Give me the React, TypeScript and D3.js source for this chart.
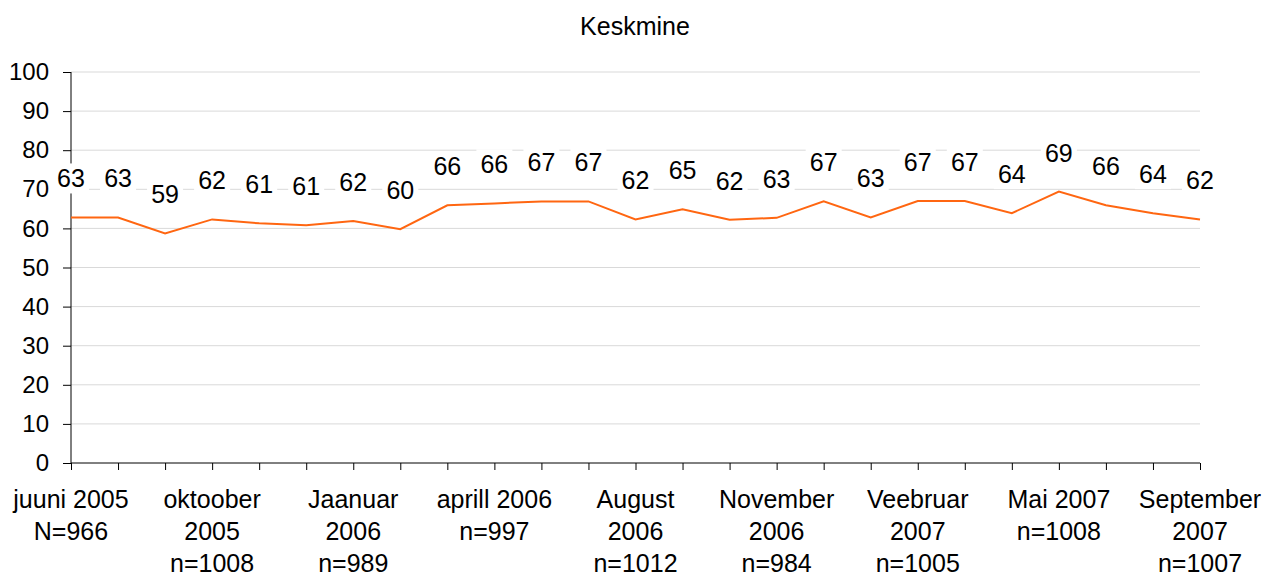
import { useEffect, useRef } from "react";
import * as d3 from "d3";

// Mean score per survey wave (25 waves, June 2005 - September 2007)
const values = [
  62.8, 62.8, 58.7, 62.3, 61.3, 60.8, 61.9, 59.8, 65.9, 66.4, 66.9, 66.9, 62.3,
  64.9, 62.2, 62.7, 66.9, 62.8, 67.0, 67.0, 63.9, 69.4, 65.9, 63.9, 62.3,
];

// Only every third wave carries a category label
const labelIndexes = [0, 3, 6, 9, 12, 15, 18, 21, 24];
const tickLabels = [
  ["juuni 2005", "N=966"],
  ["oktoober", "2005", "n=1008"],
  ["Jaanuar", "2006", "n=989"],
  ["aprill 2006", "n=997"],
  ["August", "2006", "n=1012"],
  ["November", "2006", "n=984"],
  ["Veebruar", "2007", "n=1005"],
  ["Mai 2007", "n=1008"],
  ["September", "2007", "n=1007"],
];

const yTicks = [0, 10, 20, 30, 40, 50, 60, 70, 80, 90, 100];
const title = "Keskmine";

const FONT = "'Liberation Sans', Arial, sans-serif";

export default function App() {
  const ref = useRef<SVGSVGElement>(null);

  useEffect(() => {
    if (!ref.current) return;
    const svg = d3.select(ref.current);
    svg.selectAll("*").remove();

    const left = 71;
    const right = 1200;
    const top = 72;
    const bottom = 463;

    const x = d3
      .scalePoint<number>()
      .domain(values.map((_, i) => i))
      .range([left, right]);

    const y = d3.scaleLinear().domain([0, 100]).range([bottom, top]);

    // Title
    svg
      .append("text")
      .attr("x", 635)
      .attr("y", 35)
      .attr("text-anchor", "middle")
      .style("font-family", FONT)
      .style("font-size", "25px")
      .attr("fill", "#000")
      .text(title);

    // Gridlines
    svg
      .append("g")
      .selectAll("line")
      .data(yTicks.filter((t) => t > 0))
      .enter()
      .append("line")
      .attr("x1", left)
      .attr("x2", right)
      .attr("y1", (d) => y(d))
      .attr("y2", (d) => y(d))
      .attr("stroke", "#d9d9d9")
      .attr("stroke-width", 1);

    // Y axis
    svg
      .append("g")
      .attr("transform", `translate(${left},0)`)
      .call(d3.axisLeft(y).tickValues(yTicks).tickSize(8).tickPadding(14))
      .call((g) => g.select(".domain").attr("stroke", "#000").attr("d", `M0,${top}V${bottom}`))
      .call((g) => g.selectAll(".tick line").attr("stroke", "#000"))
      .call((g) =>
        g
          .selectAll(".tick text")
          .attr("fill", "#000")
          .style("font-family", FONT)
          .style("font-size", "24px")
      );

    // X axis
    svg
      .append("g")
      .attr("transform", `translate(0,${bottom})`)
      .call(d3.axisBottom(x).tickSize(7).tickFormat(() => ""))
      .call((g) => g.select(".domain").attr("stroke", "#000").attr("d", `M${left},0H${right}`))
      .call((g) => g.selectAll(".tick line").attr("stroke", "#000"));

    // Category labels
    const catLabels = svg
      .append("g")
      .selectAll("text")
      .data(labelIndexes)
      .enter()
      .append("text")
      .attr("x", (d) => x(d) || 0)
      .attr("y", 508)
      .attr("text-anchor", "middle")
      .attr("fill", "#000")
      .style("font-family", FONT)
      .style("font-size", "25px");

    catLabels
      .selectAll("tspan")
      .data((_, i) => tickLabels[i])
      .enter()
      .append("tspan")
      .attr("x", function () {
        return (this.parentNode as SVGTextElement).getAttribute("x");
      })
      .attr("dy", (_, i) => (i === 0 ? 0 : 32))
      .text((d) => d);

    // Line
    const line = d3
      .line<number>()
      .x((_, i) => x(i) || 0)
      .y((d) => y(d));

    svg
      .append("path")
      .datum(values)
      .attr("d", line)
      .attr("fill", "none")
      .attr("stroke", "#ff6611")
      .attr("stroke-width", 2);

    // Data labels with white boxes
    const labels = svg
      .append("g")
      .selectAll("g")
      .data(values)
      .enter()
      .append("g")
      .attr("transform", (d, i) => `translate(${x(i)},${y(d) - 30})`);

    labels
      .append("rect")
      .attr("x", -18)
      .attr("y", -24)
      .attr("width", 36)
      .attr("height", 30)
      .attr("fill", "#fff");

    labels
      .append("text")
      .attr("text-anchor", "middle")
      .attr("fill", "#000")
      .style("font-family", FONT)
      .style("font-size", "25px")
      .text((d) => `${Math.round(d)}`);
  }, []);

  return (
    <div style={{ position: "absolute", left: 0, top: 0 }}>
      <svg ref={ref} width={1269} height={578} style={{ display: "block", background: "#fff" }} />
    </div>
  );
}
